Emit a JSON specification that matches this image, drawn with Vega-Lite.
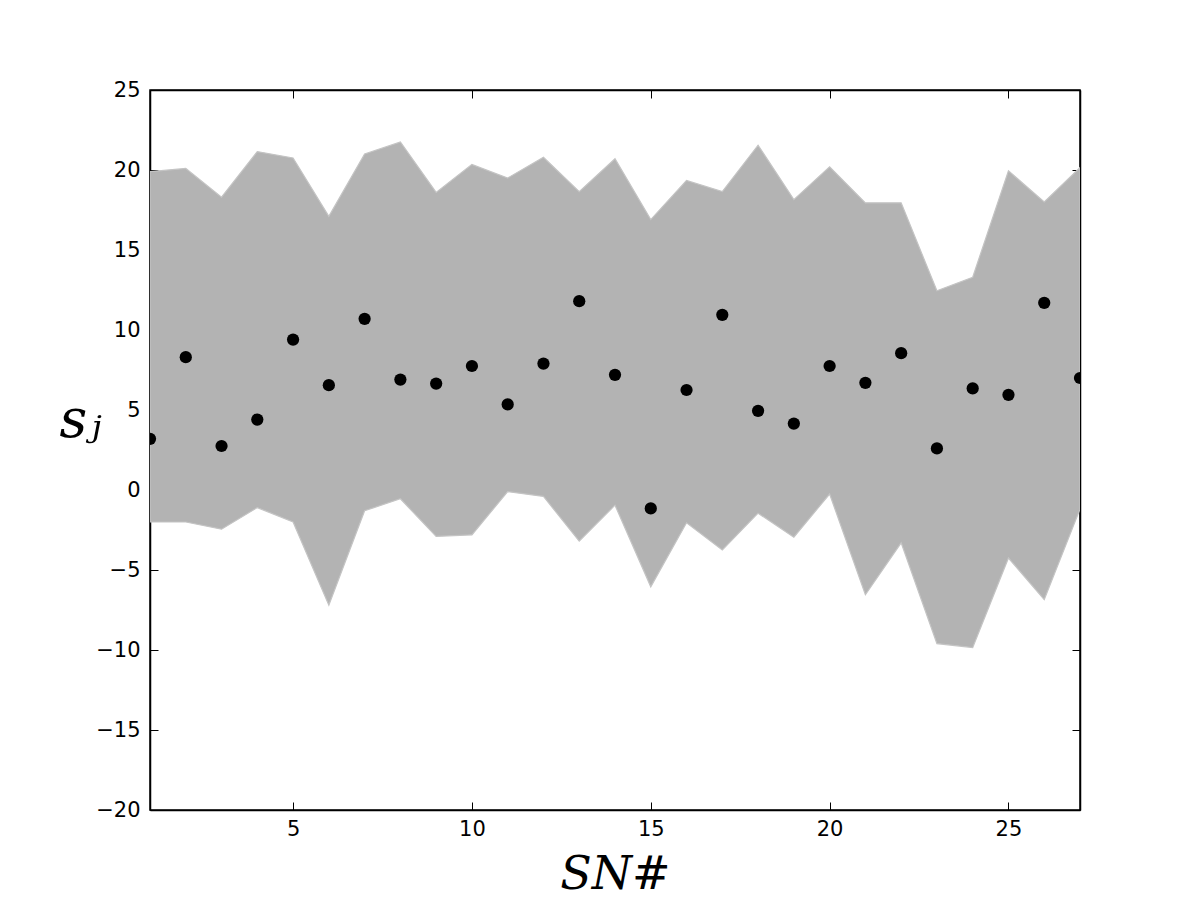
{
  "$schema": "https://vega.github.io/schema/vega-lite/v6.json",
  "width": 930,
  "height": 720,
  "autosize": "none",
  "padding": {"left": 150, "top": 90, "right": 120, "bottom": 90},
  "background": "white",
  "config": {
    "view": {"stroke": "black", "strokeWidth": 1.5},
    "axis": {
      "domainColor": "black",
      "domainWidth": 1.5,
      "tickColor": "black",
      "tickSize": -8,
      "tickWidth": 1,
      "grid": false,
      "labelFont": "DejaVu Sans",
      "labelFontSize": 21,
      "labelColor": "black",
      "labelPadding": 18
    }
  },
  "data": {
    "values": [
      {"sn": 1, "s": 3.2, "lo": -2.0, "hi": 19.9},
      {"sn": 2, "s": 8.3, "lo": -2.0, "hi": 20.1},
      {"sn": 3, "s": 2.75, "lo": -2.45, "hi": 18.3},
      {"sn": 4, "s": 4.4, "lo": -1.1, "hi": 21.15},
      {"sn": 5, "s": 9.4, "lo": -2.0, "hi": 20.75},
      {"sn": 6, "s": 6.55, "lo": -7.2, "hi": 17.1},
      {"sn": 7, "s": 10.7, "lo": -1.3, "hi": 21.0},
      {"sn": 8, "s": 6.9, "lo": -0.55, "hi": 21.75},
      {"sn": 9, "s": 6.65, "lo": -2.9, "hi": 18.6},
      {"sn": 10, "s": 7.75, "lo": -2.8, "hi": 20.35},
      {"sn": 11, "s": 5.35, "lo": -0.1, "hi": 19.5},
      {"sn": 12, "s": 7.9, "lo": -0.4, "hi": 20.8},
      {"sn": 13, "s": 11.8, "lo": -3.2, "hi": 18.65},
      {"sn": 14, "s": 7.2, "lo": -0.95, "hi": 20.7},
      {"sn": 15, "s": -1.15, "lo": -6.05, "hi": 16.9},
      {"sn": 16, "s": 6.25, "lo": -2.05, "hi": 19.35},
      {"sn": 17, "s": 10.95, "lo": -3.75, "hi": 18.65},
      {"sn": 18, "s": 4.95, "lo": -1.45, "hi": 21.55},
      {"sn": 19, "s": 4.15, "lo": -2.95, "hi": 18.15},
      {"sn": 20, "s": 7.75, "lo": -0.25, "hi": 20.2},
      {"sn": 21, "s": 6.7, "lo": -6.55, "hi": 17.95},
      {"sn": 22, "s": 8.55, "lo": -3.3, "hi": 17.95},
      {"sn": 23, "s": 2.6, "lo": -9.6, "hi": 12.45},
      {"sn": 24, "s": 6.35, "lo": -9.85, "hi": 13.3},
      {"sn": 25, "s": 5.95, "lo": -4.25, "hi": 19.95},
      {"sn": 26, "s": 11.7, "lo": -6.85, "hi": 18.0},
      {"sn": 27, "s": 7.0, "lo": -1.2, "hi": 20.15}
    ]
  },
  "resolve": {"axis": {"x": "independent", "y": "independent"}},
  "layer": [
    {
      "mark": {"type": "area", "color": "#b3b3b3", "stroke": "#c4c4c4", "strokeWidth": 1.2, "clip": true},
      "encoding": {
        "x": {
          "field": "sn", "type": "quantitative",
          "scale": {"domain": [1, 27], "nice": false, "zero": false},
          "axis": {
            "orient": "bottom",
            "values": [5, 10, 15, 20, 25],
            "labelFontSize": 21,
            "labelPadding": 16,
            "title": "SN#",
            "titleFont": "DejaVu Serif",
            "titleFontStyle": "italic",
            "titleFontWeight": "normal",
            "titleFontSize": 46,
            "titleColor": "black",
            "titleBaseline": "alphabetic",
            "titleAnchor": "middle",
            "titleY": 78
          }
        },
        "y": {
          "field": "lo", "type": "quantitative",
          "scale": {"domain": [-20, 25], "nice": false, "zero": false},
          "axis": {
            "orient": "left",
            "values": [-20, -15, -10, -5, 0, 5, 10, 15, 20, 25],
            "labelFontSize": 21,
            "labelPadding": 18,
            "title": "sⱼ",
            "titleFont": "DejaVu Serif",
            "titleFontStyle": "italic",
            "titleFontWeight": "normal",
            "titleFontSize": 54,
            "titleColor": "black",
            "titleAngle": 0,
            "titleAlign": "center",
            "titleBaseline": "middle",
            "titleX": -70,
            "titleY": 330
          }
        },
        "y2": {"field": "hi"}
      }
    },
    {
      "mark": {"type": "point", "filled": true, "color": "black", "opacity": 1, "size": 150, "clip": true},
      "encoding": {
        "x": {
          "field": "sn", "type": "quantitative",
          "scale": {"domain": [1, 27], "nice": false, "zero": false},
          "axis": {"orient": "top", "values": [5, 10, 15, 20, 25], "labels": false, "title": null}
        },
        "y": {
          "field": "s", "type": "quantitative",
          "scale": {"domain": [-20, 25], "nice": false, "zero": false},
          "axis": {"orient": "right", "values": [-20, -15, -10, -5, 0, 5, 10, 15, 20, 25], "labels": false, "title": null}
        }
      }
    }
  ]
}
